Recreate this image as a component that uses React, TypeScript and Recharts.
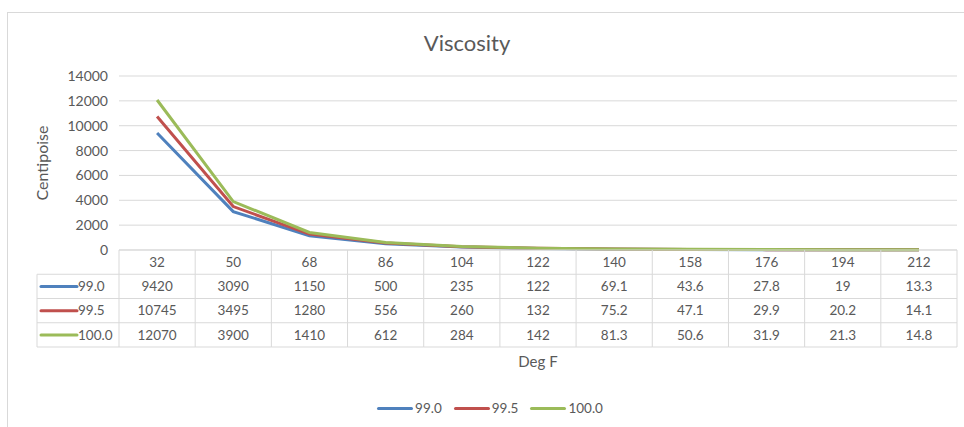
import React from 'react';
import { LineChart, Line, XAxis, YAxis, CartesianGrid, Legend } from 'recharts';

const degF = ['32', '50', '68', '86', '104', '122', '140', '158', '176', '194', '212'];
const visc990 = [9420, 3090, 1150, 500, 235, 122, 69.1, 43.6, 27.8, 19, 13.3];
const visc995 = [10745, 3495, 1280, 556, 260, 132, 75.2, 47.1, 29.9, 20.2, 14.1];
const visc1000 = [12070, 3900, 1410, 612, 284, 142, 81.3, 50.6, 31.9, 21.3, 14.8];
const yTicks = [0, 2000, 4000, 6000, 8000, 10000, 12000, 14000];

const seriesList = [
  { key: 's990', name: '99.0', values: visc990, color: '#4F81BD' },
  { key: 's995', name: '99.5', values: visc995, color: '#C0504D' },
  { key: 's1000', name: '100.0', values: visc1000, color: '#9BBB59' },
];

const chartData = degF.map((d, i) => ({
  deg: d,
  s990: visc990[i],
  s995: visc995[i],
  s1000: visc1000[i],
}));

const W = 964;
const H = 427;
const PLOT_LEFT = 119;
const PLOT_RIGHT = 957;
const BAND = (PLOT_RIGHT - PLOT_LEFT) / degF.length;
const ROW_H = 24.25;
const GRID = '#d9d9d9';
const TEXT = '#595959';
const FONT = 'Lato, "Noto Sans", sans-serif';

// the data table under the axis: each tick draws its own column,
// the first one also draws the row headers with the legend keys
const TableTick = (props: any) => {
  const { x, y, payload, index } = props;
  const left = x - BAND / 2;
  const right = x + BAND / 2;
  const rows = [1, 2, 3, 4].map((r) => y + r * ROW_H);
  const last = index === degF.length - 1;
  return (
    <g>
      <line x1={left} y1={y} x2={left} y2={rows[3]} stroke={GRID} />
      {last && <line x1={right} y1={y} x2={right} y2={rows[3]} stroke={GRID} />}
      {rows.map((ry, r) => (
        <line key={r} x1={left} y1={ry} x2={right} y2={ry} stroke={GRID} />
      ))}
      <text x={x} y={y + ROW_H / 2} dy="0.35em" textAnchor="middle" fontSize={13.5} fill={TEXT} fontFamily={FONT}>
        {payload.value}
      </text>
      {seriesList.map((s, r) => (
        <text key={s.key} x={x} y={y + ROW_H * (r + 1.5)} dy="0.35em" textAnchor="middle" fontSize={13.5} fill={TEXT} fontFamily={FONT}>
          {s.values[index]}
        </text>
      ))}
      {index === 0 && (
        <g>
          <line x1={37} y1={rows[0]} x2={37} y2={rows[3]} stroke={GRID} />
          {rows.map((ry, r) => (
            <line key={r} x1={37} y1={ry} x2={left} y2={ry} stroke={GRID} />
          ))}
          {seriesList.map((s, r) => (
            <g key={s.key}>
              <line x1={41} y1={y + ROW_H * (r + 1.5)} x2={77} y2={y + ROW_H * (r + 1.5)} stroke={s.color} strokeWidth={3} strokeLinecap="round" />
              <text x={78} y={y + ROW_H * (r + 1.5)} dy="0.35em" fontSize={13.5} fill={TEXT} fontFamily={FONT}>
                {s.name}
              </text>
            </g>
          ))}
        </g>
      )}
    </g>
  );
};

const LegendContent = () => (
  <div style={{ display: 'flex', justifyContent: 'center', alignItems: 'center', height: 30, paddingRight: 16, fontFamily: FONT, fontSize: 13.5, color: TEXT }}>
    {seriesList.map((s) => (
      <div key={s.key} style={{ display: 'flex', alignItems: 'center', margin: '0 6px' }}>
        <span style={{ display: 'inline-block', width: 36, height: 3, borderRadius: 2, background: s.color, marginRight: 2 }} />
        <span>{s.name}</span>
      </div>
    ))}
  </div>
);

export default function App() {
  return (
    <div style={{ position: 'relative', width: W, height: H, overflow: 'hidden', background: '#fff' }}>
      <style>{'body{margin:0}'}</style>
      <div
        style={{
          position: 'absolute', left: 7, top: 12, width: W, height: H,
          borderLeft: `1.5px solid ${GRID}`, borderTop: `1.5px solid ${GRID}`,
        }}
      />
      <div
        style={{
          position: 'absolute', left: 0, width: W - 30, top: 29, textAlign: 'center',
          fontFamily: FONT, fontSize: 22, color: TEXT,
        }}
      >
        Viscosity
      </div>
      <div style={{ position: 'absolute', left: 0, top: 0 }}>
        <LineChart width={W} height={H} data={chartData} margin={{ top: 76, right: W - PLOT_RIGHT, left: 39, bottom: 4 }}>
          <CartesianGrid vertical={false} stroke={GRID} />
          <XAxis
            dataKey="deg"
            height={143}
            padding={{ left: BAND / 2, right: BAND / 2 }}
            tickLine={false}
            tickSize={0}
            tickMargin={0}
            axisLine={{ stroke: GRID }}
            interval={0}
            tick={(p: any) => <TableTick {...p} />}
            label={{
              content: ({ viewBox }: any) => (
                <text x={viewBox.x + viewBox.width / 2} y={viewBox.y + 112} dy="0.35em" textAnchor="middle" fontSize={15} fill={TEXT} fontFamily={FONT}>
                  Deg F
                </text>
              ),
            }}
          />
          <YAxis
            width={80}
            domain={[0, 14000]}
            ticks={yTicks}
            axisLine={false}
            tickLine={false}
            tickMargin={5}
            tick={{ fontSize: 14, fill: TEXT, fontFamily: FONT }}
            label={{ value: 'Centipoise', angle: -90, position: 'insideLeft', offset: 3, fontSize: 16, fill: TEXT, fontFamily: FONT, style: { textAnchor: 'middle' } }}
          />
          <Legend verticalAlign="bottom" height={30} content={<LegendContent />} />
          {seriesList.map((s) => (
            <Line
              key={s.key}
              type="linear"
              dataKey={s.key}
              name={s.name}
              stroke={s.color}
              strokeWidth={3}
              dot={false}
              isAnimationActive={false}
            />
          ))}
        </LineChart>
      </div>
    </div>
  );
}
